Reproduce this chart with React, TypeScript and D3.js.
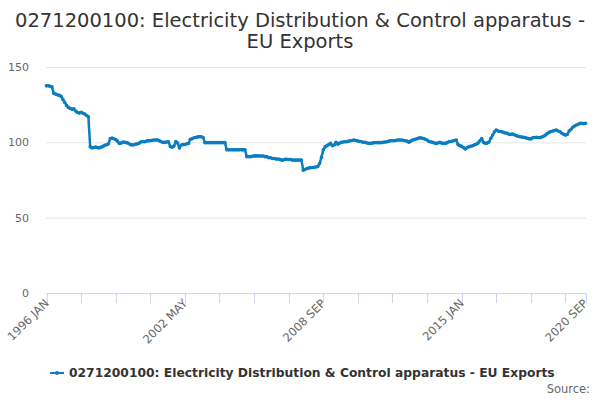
import { useEffect, useRef } from "react"
import * as d3 from "d3"

// monthly index values, 1996 JAN .. 2020 SEP
const values: number[] = [
  137.5, 137.5, 137.2, 136.8, 132.5, 132, 131.5, 131.2, 130.5, 128.5,
  126.5, 124.5, 123.2, 122.5, 122, 122.3, 120.8, 119.8, 119.4, 120,
  119.3, 118.8, 117.8, 117, 97, 96.3, 96.6, 96.9, 96.5, 96.2,
  96.8, 97.3, 98, 98.4, 99, 102.5, 102.8, 102.4, 101.8, 100.8,
  99.2, 99.5, 100.2, 100, 99.8, 99.4, 98.5, 98.3, 98.4, 98.8,
  99, 99.5, 100.4, 100.4, 100.4, 100.9, 101, 101.1, 101.3, 101.5,
  101.5, 101.5, 101, 100.4, 100, 100, 100.2, 100.4, 97.2, 96.8,
  97.5, 100.5, 99.5, 96.2, 98.2, 98.5, 98.6, 99, 99.3, 102,
  102.4, 103, 103.2, 103.6, 103.7, 103.7, 103.2, 99.8, 99.8, 99.8,
  99.8, 99.8, 99.8, 99.8, 99.8, 99.8, 99.8, 99.8, 99.8, 95,
  95, 95, 95, 95, 95, 95, 95, 95, 95, 95,
  90.5, 90.5, 90.5, 90.7, 91, 91, 91, 90.9, 90.9, 90.9,
  90.5, 90.5, 89.8, 89.8, 89.3, 89.3, 88.9, 88.9, 88.7, 88.2,
  88.2, 88.8, 88.8, 88.6, 88.6, 88.2, 88.2, 88.2, 88.2, 88.2,
  88.2, 81.5, 82, 82.6, 83, 83.2, 83.3, 83.4, 83.6, 84,
  86, 90, 95, 97, 97.8, 98.5, 99.3, 97.7, 98.2, 100,
  98.7, 99.5, 100, 100.2, 100.4, 100.4, 100.8, 101.1, 101.3, 101.5,
  101.2, 100.9, 100.6, 100.4, 100.1, 100, 99.6, 99.3, 99.3, 99.5,
  99.8, 99.8, 99.8, 99.8, 99.8, 100, 100.2, 100.4, 100.8, 101.1,
  101.1, 101.1, 101.3, 101.5, 101.5, 101.5, 101.3, 101.1, 100.8, 100,
  100.8, 101.5, 101.8, 102.2, 102.6, 103, 102.8, 102.5, 102, 101.5,
  100.6, 100.3, 100, 99.6, 99.3, 99.6, 100, 99.5, 99.3, 99.3,
  99.8, 100.4, 100.6, 100.9, 101.2, 101.5, 98.5, 97.8, 97.3, 96.5,
  95.6, 96.5, 97.1, 97.4, 97.7, 98.3, 98.7, 99.5, 101, 102.5,
  100, 99.3, 99.5, 100.2, 102.7, 104.8, 107, 108.2, 107.5, 107.2,
  107, 106.6, 106.2, 106, 105.3, 105.3, 105.5, 105, 104.4, 104,
  103.7, 103.5, 103.3, 103, 102.7, 102.3, 102.2, 103, 103.2, 103.3,
  103.2, 103.1, 103.5, 104, 104.8, 105.8, 106.6, 107.2, 107.5, 107.9,
  108.2, 107.5, 107, 106, 105.3, 104.8, 105.2, 107.5, 108.5, 110,
  110.8, 111.5, 112, 112.6, 112.6, 112.4, 112.6,
]

const tickIndex = [0, 19, 38, 57, 76, 95, 114, 133, 152, 171, 190, 209, 228, 247, 266, 285, 296]
const labelIndex = [0, 76, 152, 228, 296]
const tickLabels = ["1996 JAN", "2002 MAY", "2008 SEP", "2015 JAN", "2020 SEP"]
const yTicks = [0, 50, 100, 150]

const titleLines = ["0271200100: Electricity Distribution & Control apparatus -", "EU Exports"]
const seriesName = "0271200100: Electricity Distribution & Control apparatus - EU Exports"

const width = 600
const height = 400
const color = "#0b7dc1"
const font = "DejaVu Sans, Verdana, sans-serif"

export default function App() {
  const svgRef = useRef<SVGSVGElement>(null)

  useEffect(() => {
    if (!svgRef.current) return
    const svg = d3.select(svgRef.current)
    svg.selectAll("*").remove()

    const x = d3.scaleLinear().domain([0, values.length - 1]).range([46.5, 585.5])
    const y = d3.scaleLinear().domain([0, 150]).range([293, 67])

    // title
    svg.append("g")
      .selectAll("text")
      .data(titleLines)
      .join("text")
      .attr("x", 300)
      .attr("y", (_, i) => 27 + i * 21)
      .attr("text-anchor", "middle")
      .attr("fill", "#333")
      .style("font-size", "19.5px")
      .text((d) => d)

    // gridlines
    svg.append("g")
      .selectAll("line")
      .data(yTicks.filter((d) => d > 0))
      .join("line")
      .attr("x1", 46)
      .attr("x2", 586)
      .attr("y1", (d) => y(d) + 0.5)
      .attr("y2", (d) => y(d) + 0.5)
      .attr("stroke", "#e6e6e6")

    // y labels
    svg.append("g")
      .selectAll("text")
      .data(yTicks)
      .join("text")
      .attr("x", 29)
      .attr("y", (d) => y(d) + 4)
      .attr("text-anchor", "end")
      .attr("fill", "#666")
      .style("font-size", "11px")
      .text((d) => d)

    // x axis
    const xa = svg.append("g")
    xa.append("line")
      .attr("x1", 46)
      .attr("x2", 586)
      .attr("y1", 293.5)
      .attr("y2", 293.5)
      .attr("stroke", "#ccd6eb")
    xa.selectAll("line.tick")
      .data(tickIndex)
      .join("line")
      .attr("class", "tick")
      .attr("x1", (d) => Math.round(x(d)) + 0.5)
      .attr("x2", (d) => Math.round(x(d)) + 0.5)
      .attr("y1", 293)
      .attr("y2", 303)
      .attr("stroke", "#ccd6eb")
    xa.selectAll("text")
      .data(labelIndex)
      .join("text")
      .attr("transform", (d) => `translate(${x(d) + 3},${304}) rotate(-45)`)
      .attr("text-anchor", "end")
      .attr("fill", "#666")
      .style("font-size", "11.5px")
      .text((_, i) => tickLabels[i])

    // series
    const line = d3
      .line<number>()
      .x((_, i) => x(i))
      .y((d) => y(d))
    svg.append("path")
      .datum(values)
      .attr("fill", "none")
      .attr("stroke", color)
      .attr("stroke-width", 2.5)
      .attr("stroke-linejoin", "round")
      .attr("stroke-linecap", "round")
      .attr("d", line)
    svg.append("g")
      .selectAll("circle")
      .data(values)
      .join("circle")
      .attr("cx", (_, i) => x(i))
      .attr("cy", (d) => y(d))
      .attr("r", 1.8)
      .attr("fill", color)

    // legend
    const lg = svg.append("g")
    lg.append("line")
      .attr("x1", 50)
      .attr("x2", 64)
      .attr("y1", 373)
      .attr("y2", 373)
      .attr("stroke", color)
      .attr("stroke-width", 2)
    lg.append("circle").attr("cx", 57).attr("cy", 373).attr("r", 2).attr("fill", color)
    lg.append("text")
      .attr("x", 69)
      .attr("y", 377)
      .attr("fill", "#333")
      .style("font-size", "12.3px")
      .style("font-weight", "bold")
      .text(seriesName)

    // credits
    svg.append("text")
      .attr("x", 590)
      .attr("y", 393)
      .attr("text-anchor", "end")
      .attr("fill", "#666")
      .style("font-size", "11.5px")
      .text("Source:")
  }, [])

  return (
    <div style={{ position: "absolute", left: 0, top: 0 }}>
      <svg
        ref={svgRef}
        width={width}
        height={height}
        style={{ fontFamily: font, background: "#fff", display: "block" }}
      />
    </div>
  )
}
